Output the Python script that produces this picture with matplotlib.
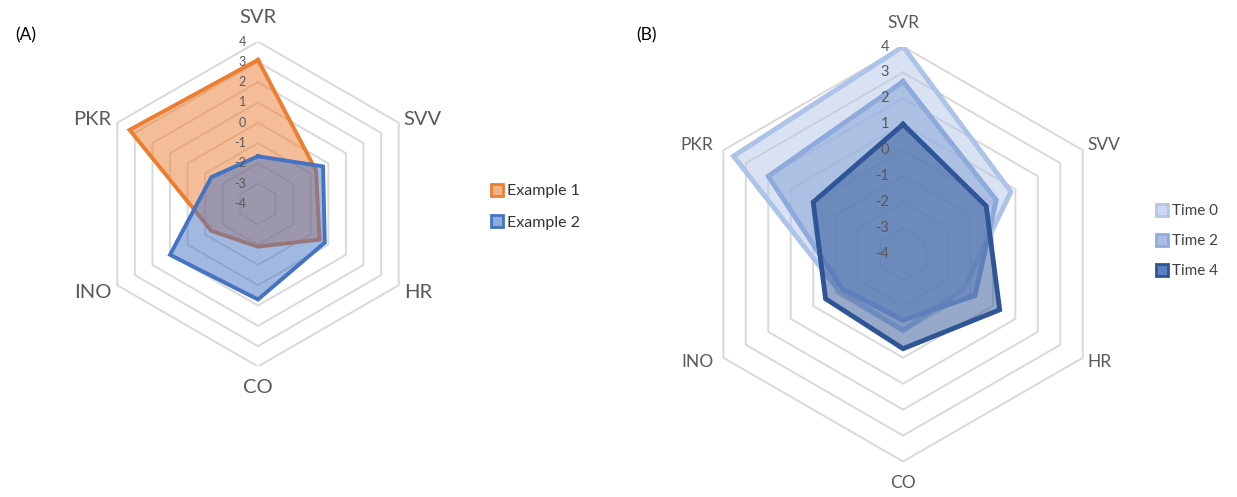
import numpy as np
import matplotlib.pyplot as plt
from matplotlib import transforms
from matplotlib.lines import Line2D

plt.rcParams['font.family'] = ['Lato', 'DejaVu Sans']

# ---------------- data ----------------
categories = ['SVR', 'SVV', 'HR', 'CO', 'INO', 'PKR']
ticks = [-4, -3, -2, -1, 0, 1, 2, 3, 4]

example1 = [3.1, -0.7, -0.5, -1.9, -1.35, 3.3]
example2 = [-1.65, -0.3, -0.2, 0.7, 1.0, -1.35]

time0 = [4.0, 0.8, -1.3, -1.05, -1.15, 3.55]
time2 = [2.65, 0.15, -0.8, -1.45, -1.3, 2.0]
time4 = [1.0, -0.3, 0.3, -0.35, -0.55, 0.0]

RMIN, RMAX = -4, 4
angles = np.arange(len(categories)) * 2 * np.pi / len(categories)  # clockwise from top


def to_xy(vals):
    r = np.asarray(vals, float) - RMIN
    r = np.append(r, r[0])
    a = np.append(angles, angles[0])
    return r * np.sin(a), r * np.cos(a)


def radar_frame(ax, fig, tick_fs, cat_fs, tick_dx, cat_offsets):
    span = RMAX - RMIN
    ax.set_xlim(-span, span)
    ax.set_ylim(-span, span)
    ax.set_aspect('equal')
    ax.axis('off')
    for v in ticks[1:]:
        x, y = to_xy([v] * len(categories))
        ax.plot(x, y, color='#d9d9d9', lw=1.4, zorder=1)
    tr = transforms.offset_copy(ax.transData, fig=fig, x=tick_dx, y=0, units='dots')
    for v in ticks:
        ax.text(0, v - RMIN, str(v), transform=tr, ha='right', va='center',
                fontsize=tick_fs, color='#595959', zorder=10)
    xs, ys = to_xy([RMAX] * len(categories))
    for i, name in enumerate(categories):
        dx, dy, ha = cat_offsets[i]
        t = transforms.offset_copy(ax.transData, fig=fig, x=dx, y=dy, units='dots')
        ax.text(xs[i], ys[i], name, transform=t, ha=ha, va='center',
                fontsize=cat_fs, color='#595959', clip_on=False)


def draw_series(ax, vals, line, fill, alpha, lw=2.8, z=3):
    x, y = to_xy(vals)
    ax.fill(x, y, color=fill, alpha=alpha, lw=0, zorder=z)
    ax.plot(x, y, color=line, lw=lw, zorder=z + 0.5, solid_joinstyle='miter')


fig = plt.figure(figsize=(12.37, 4.97), dpi=100)

# ---------------- panel A ----------------
axA = fig.add_axes([0.0772, 0.2625, 0.2627, 0.654])
radar_frame(axA, fig, 9, 14.5, -12,
            [(0, 24, 'center'), (5, 3, 'left'), (5, -7, 'left'),
             (0, -21, 'center'), (-6, -7, 'right'), (-6, 3, 'right')])
draw_series(axA, example1, '#ed7d31', '#ed7d31', 0.5)
draw_series(axA, example2, '#4472c4', '#4472c4', 0.5, z=5)

legA = [Line2D([], [], marker='s', ls='none', markersize=8, markeredgewidth=2,
               markeredgecolor='#ed7d31', markerfacecolor='#f4b183'),
        Line2D([], [], marker='s', ls='none', markersize=8, markeredgewidth=2,
               markeredgecolor='#4472c4', markerfacecolor='#8faadc')]
fig.legend(legA, ['Example 1', 'Example 2'], loc='center left',
           bbox_to_anchor=(0.397, 0.5835), frameon=False, fontsize=11.5,
           handlelength=0.7, handletextpad=0.3, labelspacing=1.1,
           borderpad=0, borderaxespad=0, labelcolor='#333333')

# ---------------- panel B ----------------
axB = fig.add_axes([0.5623, 0.0714, 0.3355, 0.835])
radar_frame(axB, fig, 10.5, 12.5, -14,
            [(0, 24, 'center'), (5, 5, 'left'), (5, -4, 'left'),
             (0, -21, 'center'), (-10, -4, 'right'), (-10, 5, 'right')])
draw_series(axB, time0, '#adc3e7', '#b4c7e7', 0.5, lw=3.5)
draw_series(axB, time2, '#8eaadc', '#8faadc', 0.6, lw=3.5, z=5)
draw_series(axB, time4, '#2f5597', '#2f5597', 0.5, lw=3.5, z=7)

legB = [Line2D([], [], marker='s', ls='none', markersize=8, markeredgewidth=2,
               markeredgecolor=c, markerfacecolor=f)
        for c, f in [('#b4c7e7', '#cdd9ef'), ('#8faadc', '#a9bde5'), ('#2f5597', '#5b7fc0')]]
fig.legend(legB, ['Time 0', 'Time 2', 'Time 4'], loc='center left',
           bbox_to_anchor=(0.935, 0.515), frameon=False, fontsize=11,
           handlelength=0.7, handletextpad=0.3, labelspacing=1.05,
           borderpad=0, borderaxespad=0, labelcolor='#404040')

fig.text(15 / 1237, 1 - 35 / 497, '(A)', fontsize=12.5, va='center')
fig.text(636 / 1237, 1 - 35 / 497, '(B)', fontsize=12.5, va='center')

fig.savefig('out.png', dpi=100)
